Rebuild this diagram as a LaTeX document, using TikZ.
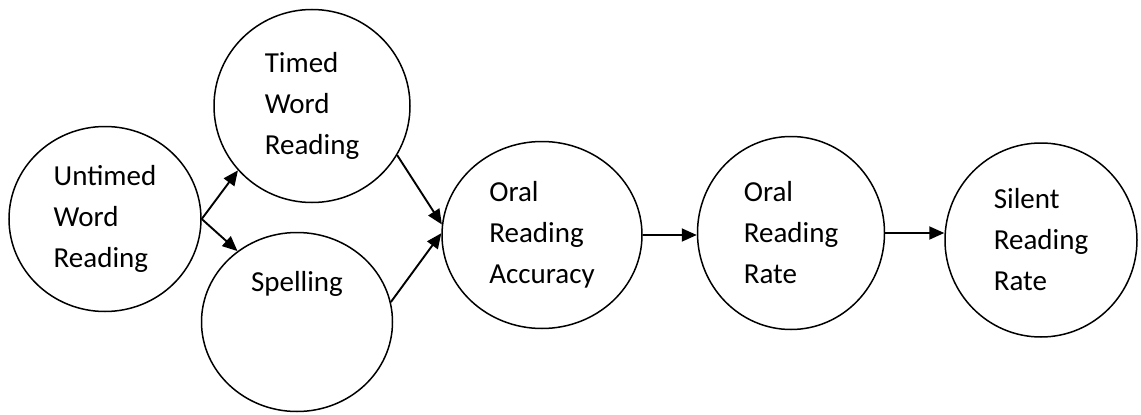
\documentclass[tikz,border=0pt]{standalone}
\usepackage{fontspec}
\setmainfont{Carlito}
\usetikzlibrary{shapes.geometric, arrows.meta}

\begin{document}
\begin{tikzpicture}[x=1pt, y=-1pt,
    bubble/.style={draw, ellipse, line width=1.5pt, inner sep=0pt, align=left,
        font=\fontsize{29}{41}\selectfont},
    link/.style={line width=1.9pt, -{Triangle[length=15pt, width=13pt]}}]
    \useasboundingbox (0,0) rectangle (1141,415);

    \node[bubble, minimum width=192pt, minimum height=185pt] (untimed) at (105,219) {Untimed\\Word\\Reading};
    \node[bubble, minimum width=196pt, minimum height=193pt] (timed) at (312,106) {Timed\\Word\\Reading};
    \node[bubble, minimum width=191pt, minimum height=179pt] (spell) at (297,322) {Spelling\\\mbox{}\\\mbox{}};
    \node[bubble, minimum width=200pt, minimum height=187pt] (acc) at (542,235) {Oral\\Reading\\Accuracy};
    \node[bubble, minimum width=187pt, minimum height=193pt] (rate) at (791,233) {Oral\\Reading\\Rate};
    \node[bubble, minimum width=192pt, minimum height=194pt] (silent) at (1041,240) {Silent\\Reading\\Rate};

    \draw[link] (untimed.east) -- (timed.221);
    \draw[link] (untimed.east) -- (spell.130);
    \draw[link] (timed.-30) -- (acc.174);
    \draw[link] (spell.12) -- (acc.179);
    \draw[link] (acc.east) -- (acc.east -| rate.west);
    \draw[link] (rate.east) -- (rate.east -| silent.west);
\end{tikzpicture}
\end{document}
